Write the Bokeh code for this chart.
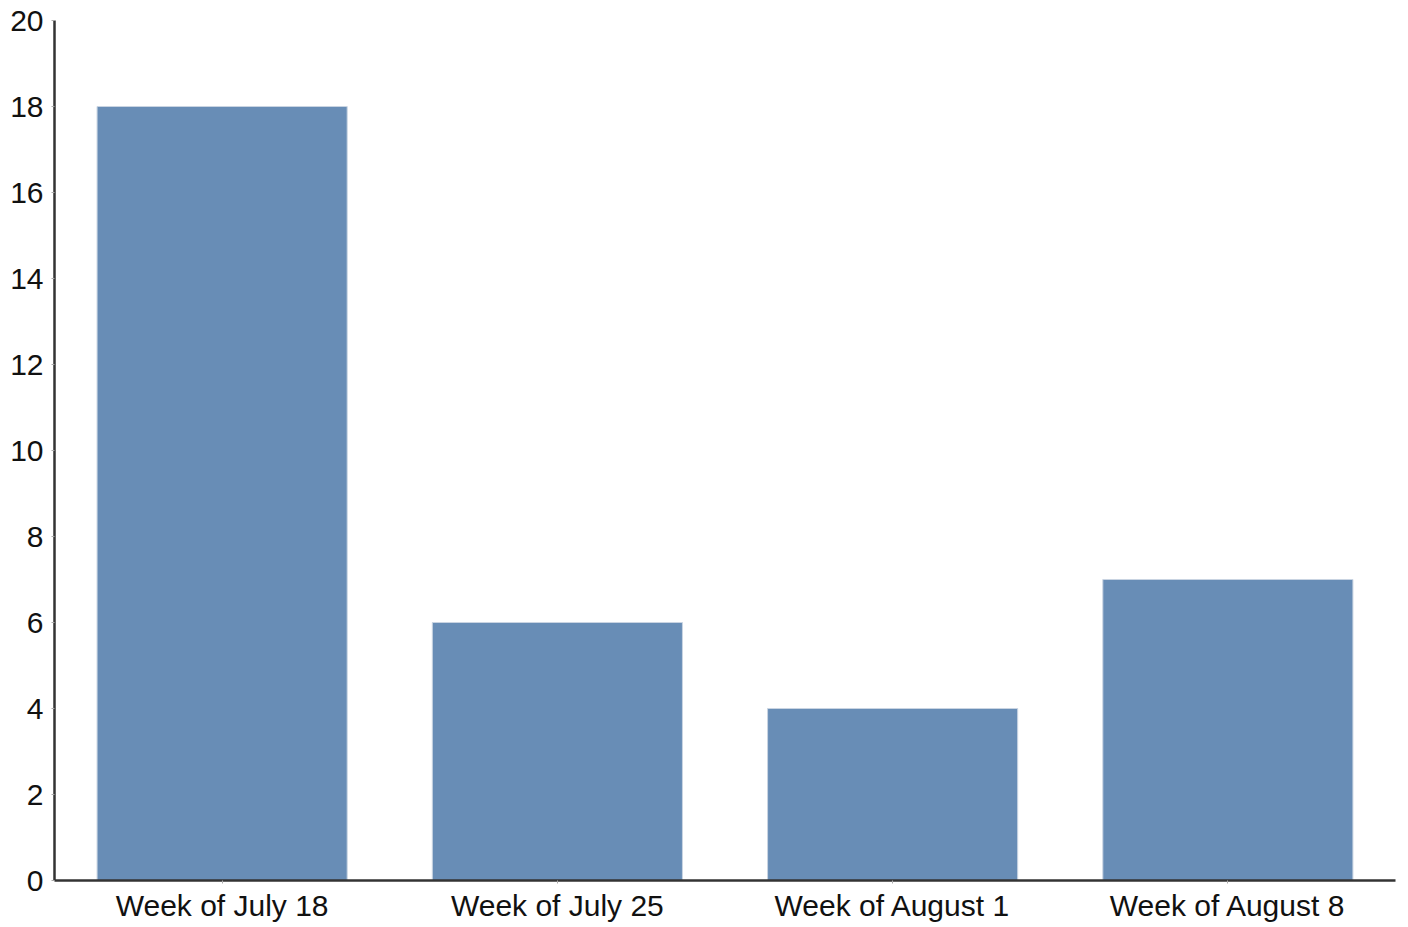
from bokeh.plotting import figure
from bokeh.embed import file_html
from bokeh.resources import INLINE
from bokeh.models import Range1d, FixedTicker

categories = ["Week of July 18", "Week of July 25", "Week of August 1", "Week of August 8"]
values = [18, 6, 4, 7]
y_ticks = [0, 2, 4, 6, 8, 10, 12, 14, 16, 18, 20]

p = figure(x_range=categories, y_range=Range1d(0, 20), width=1400, height=925,
           output_backend="svg", toolbar_location=None,
           min_border_left=54, min_border_right=5, min_border_top=20, min_border_bottom=45)

p.vbar(x=categories, top=values, width=0.746, fill_color="#688db6",
       line_color="#c9d4e2", line_width=1)

p.outline_line_color = None
p.xgrid.grid_line_color = None
p.ygrid.grid_line_color = None
p.x_range.range_padding = 0

for ax in (p.xaxis[0], p.yaxis[0]):
    ax.axis_line_color = "#333333"
    ax.axis_line_width = 2.5
    ax.major_tick_line_color = "#aaaaaa"
    ax.major_tick_in = 0
    ax.major_tick_out = 3
    ax.minor_tick_line_color = None
    ax.major_label_text_font = "Liberation Sans"
    ax.major_label_text_font_size = "30px"
    ax.major_label_text_color = "#111111"

p.yaxis.ticker = FixedTicker(ticks=y_ticks)
p.yaxis.major_label_standoff = 8
p.xaxis.major_label_standoff = 5

open("out.html", "w").write(file_html(p, INLINE))
